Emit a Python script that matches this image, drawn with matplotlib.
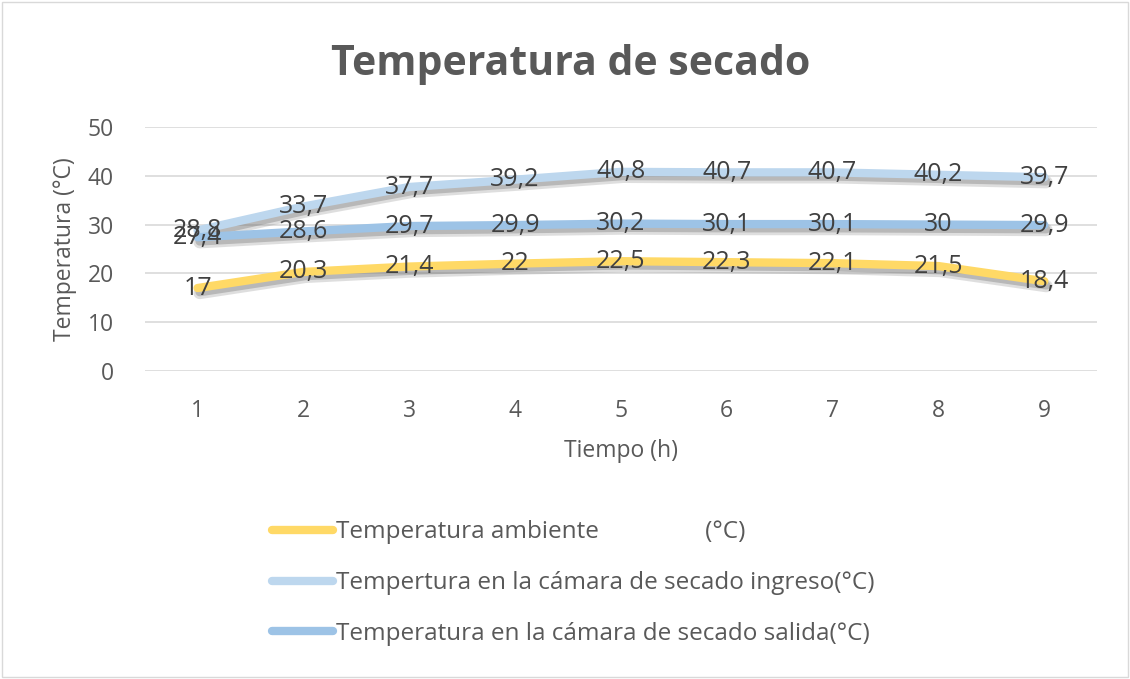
import matplotlib
matplotlib.use("Agg")
import matplotlib.pyplot as plt
import matplotlib.patheffects as pe
from matplotlib.lines import Line2D
from matplotlib.patches import Rectangle

plt.rcParams["font.family"] = ["Open Sans", "DejaVu Sans"]

hours = [1, 2, 3, 4, 5, 6, 7, 8, 9]
ambiente = [17, 20.3, 21.4, 22, 22.5, 22.3, 22.1, 21.5, 18.4]
ingreso = [28.8, 33.7, 37.7, 39.2, 40.8, 40.7, 40.7, 40.2, 39.7]
salida = [27.4, 28.6, 29.7, 29.9, 30.2, 30.1, 30.1, 30, 29.9]

labels = ["Temperatura ambiente                 (°C)",
          "Tempertura en la cámara de secado ingreso(°C)",
          "Temperatura en la cámara de secado salida(°C)"]
colors = ["#FFD966", "#BDD7EE", "#9DC3E6"]
TXT = "#595959"

fig = plt.figure(figsize=(11.3, 6.79), dpi=100)
fig.patches.append(Rectangle((0.002, 0.003), 0.996, 0.994, transform=fig.transFigure,
                             fill=False, ec="#D9D9D9", lw=1))
ax = fig.add_axes([0.128, 0.4536, 0.843, 0.3594])

shadow = [pe.SimpleLineShadow(offset=(1.5, -3.5), shadow_color="#7f7f7f", alpha=0.25,
                              linewidth=9),
          pe.SimpleLineShadow(offset=(1.5, -3), shadow_color="#7f7f7f", alpha=0.4),
          pe.Normal()]
for ys, c in zip([ambiente, ingreso, salida], colors):
    ax.plot(hours, ys, color=c, lw=6, solid_capstyle="round",
            solid_joinstyle="round", path_effects=shadow, zorder=3)
for ys in [ambiente, ingreso, salida]:
    for x, y in zip(hours, ys):
        ax.text(x, y, f"{y:g}".replace(".", ","), ha="center", va="center",
                fontsize=18, color="#404040", zorder=5)

ax.set_xlim(0.5, 9.5)
ax.set_ylim(0, 50)
ax.set_xticks(hours)
ax.set_yticks([0, 10, 20, 30, 40, 50])
ax.tick_params(length=0, labelsize=16.5, colors=TXT)
ax.tick_params(axis="x", pad=20)
ax.tick_params(axis="y", pad=22)
ax.grid(axis="y", color="#D9D9D9", lw=1.2, zorder=0)
for s in ax.spines.values():
    s.set_visible(False)
ax.set_xlabel("Tiempo (h)", fontsize=16.5, color=TXT, labelpad=12)
ax.set_ylabel("Temperatura (°C)", fontsize=16.5, color=TXT, labelpad=8)

fig.text(0.505, 0.905, "Temperatura de secado", ha="center", va="center",
         fontsize=29.5, fontweight="bold", color=TXT)

handles = [Line2D([], [], color=c, lw=6, solid_capstyle="round") for c in colors]
fig.legend(handles, labels, loc="upper left", bbox_to_anchor=(0.232, 0.248),
           frameon=False, fontsize=17.5, labelcolor=TXT, handlelength=2.5,
           handletextpad=0.15, labelspacing=1.1, borderaxespad=0)

fig.savefig("out.png", dpi=100)
